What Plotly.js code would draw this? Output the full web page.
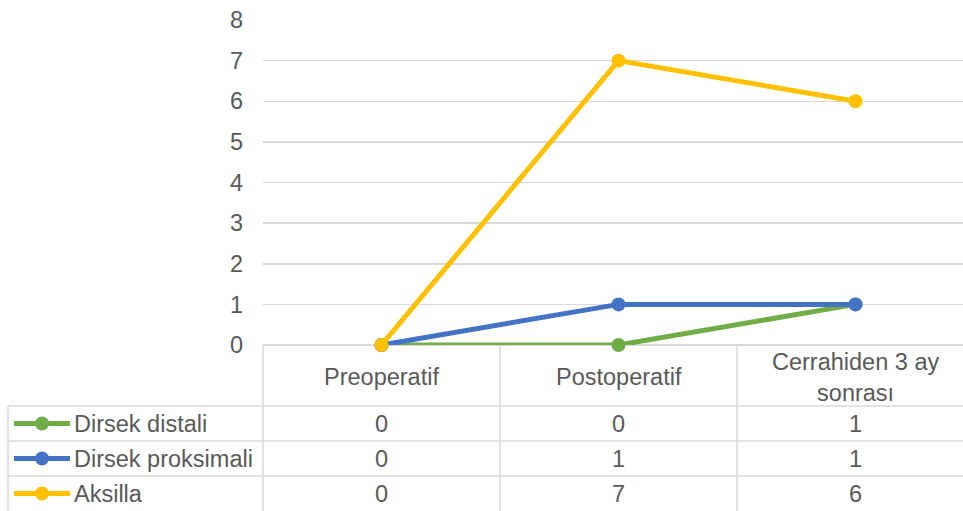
<!DOCTYPE html>
<html>
<head>
<meta charset="utf-8">
<script src="https://cdn.plot.ly/plotly-3.0.1.min.js"></script>
<style>html,body{margin:0;padding:0;background:#fff;}#chart{width:963px;height:511px;}</style>
</head>
<body>
<div id="chart"></div>
<script>
const categories = ["Preoperatif", "Postoperatif", "Cerrahiden 3 ay sonrası"];
const categoryLabels = ["Preoperatif", "Postoperatif", "Cerrahiden 3 ay<br>sonrası"];
const seriesNames = ["Dirsek distali", "Dirsek proksimali", "Aksilla"];
const dirsekDistali = [0, 0, 1];
const dirsekProksimali = [0, 1, 1];
const aksilla = [0, 7, 6];
const yTicks = [0, 1, 2, 3, 4, 5, 6, 7, 8];
const colors = ["#70AD47", "#4472C4", "#FFC000"];

const seriesValues = [dirsekDistali, dirsekProksimali, aksilla];
const W = 963, H = 511;
const plotL = 263, plotT = 20, plotB = 345, plotR = 963;
const plotH = plotB - plotT, plotW = plotR - plotL;
const catW = 237;
const xMax = -0.5 + plotW / catW;
const py = p => (plotB - p) / plotH;   // pixel y -> paper y
const px = p => (p - plotL) / plotW;   // pixel x -> paper x
const txt = "#595959", grid = "#D9D9D9";
const font = "Liberation Sans, Arial, sans-serif";
const fs = 23.5;

const idx = categories.map((c, i) => i);
const traces = seriesValues.map((vals, s) => ({
  type: "scatter", mode: "lines+markers",
  x: idx, y: vals, name: seriesNames[s],
  line: {color: colors[s], width: 5},
  marker: {color: colors[s], size: 14},
  cliponaxis: false, showlegend: false, hoverinfo: "skip"
}));

const shapes = [];
const annotations = [];
const ln = (x0, y0, x1, y1, xref) => shapes.push({type: "line", xref: xref || "paper", yref: "paper",
  x0: x0, y0: y0, x1: x1, y1: y1, line: {color: grid, width: 1.5}, layer: "below"});

// table grid
const rowTops = [406, 441, 476, 511];
ln(px(plotL), py(plotB), px(plotL), py(H));
ln(0.5, py(plotB), 0.5, py(H), "x");
ln(1.5, py(plotB), 1.5, py(H), "x");
rowTops.slice(0, 3).forEach(r => ln(px(8), py(r), 1, py(r)));
ln(px(8), py(406), px(8), py(H));

// header labels
categoryLabels.forEach((c, i) => annotations.push({xref: "x", yref: "paper", x: i, y: py(377),
  text: c, showarrow: false, font: {family: font, size: fs, color: txt}, xanchor: "center", yanchor: "middle"}));

// rows
seriesValues.forEach((vals, s) => {
  const yc = (rowTops[s] + rowTops[s + 1]) / 2;
  shapes.push({type: "line", xref: "paper", yref: "paper", x0: px(14), x1: px(70), y0: py(yc), y1: py(yc),
    line: {color: colors[s], width: 5}});
  shapes.push({type: "circle", xref: "paper", yref: "paper", x0: px(42 - 7), x1: px(42 + 7),
    y0: py(yc + 7), y1: py(yc - 7), fillcolor: colors[s], line: {color: colors[s], width: 0}});
  annotations.push({xref: "paper", yref: "paper", x: px(72), y: py(yc), text: seriesNames[s], showarrow: false,
    xanchor: "left", yanchor: "middle", font: {family: font, size: fs, color: txt}});
  vals.forEach((v, i) => annotations.push({xref: "x", yref: "paper", x: i, y: py(yc), text: String(v),
    showarrow: false, xanchor: "center", yanchor: "middle", font: {family: font, size: fs, color: txt}}));
});

const layout = {
  width: W, height: H,
  margin: {l: plotL, r: W - plotR, t: plotT, b: H - plotB, pad: 0},
  paper_bgcolor: "#fff", plot_bgcolor: "#fff",
  showlegend: false,
  xaxis: {range: [-0.5, xMax], showgrid: false, zeroline: false, showticklabels: false, showline: false, fixedrange: true},
  yaxis: {range: [0, 8], tickvals: yTicks, ticktext: yTicks.map(String), showgrid: true, gridcolor: grid, gridwidth: 1.5,
    zeroline: true, zerolinecolor: grid, zerolinewidth: 1.5, showline: false, ticks: "",
    ticklabelstandoff: 19, tickfont: {family: font, size: fs, color: txt}, fixedrange: true},
  shapes: shapes, annotations: annotations
};

Plotly.newPlot("chart", traces, layout, {displayModeBar: false, staticPlot: true});
</script>
</body>
</html>
